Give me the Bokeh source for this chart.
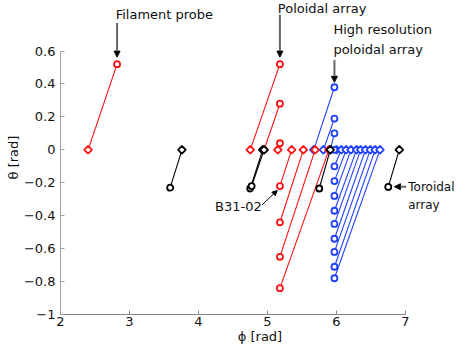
import numpy as np
from bokeh.plotting import figure
from bokeh.models import Range1d, FixedTicker, Label, Arrow, NormalHead
from bokeh.embed import file_html
from bokeh.resources import INLINE

# ---------------- data ----------------
# Filament probe (red): diamond at (phi0, theta0) -> circle at (phi1, theta)
fil_phi0 = [2.40]
fil_phi1 = [2.82]
fil_theta0 = [0.0]
fil_theta = [0.52]

# Poloidal array (red)
pol_phi0 = [4.75, 4.95, 5.15, 5.35, 5.52, 5.69, 5.89]
pol_phi1 = [5.18, 5.18, 5.18, 5.18, 5.18, 5.18, 5.18]
pol_theta0 = [0.0, 0.0, 0.0, 0.0, 0.0, 0.0, 0.0]
pol_theta = [0.52, 0.28, 0.04, -0.22, -0.44, -0.65, -0.84]

# High resolution poloidal array (blue)
hr_phi0 = [5.67, 5.81, 5.91, 6.00, 6.07, 6.14, 6.21, 6.29, 6.35, 6.42, 6.49, 6.56, 6.63]
hr_phi1 = [5.97, 5.97, 5.97, 5.97, 5.97, 5.97, 5.97, 5.97, 5.97, 5.97, 5.97, 5.97, 5.97]
hr_theta0 = [0.0, 0.0, 0.0, 0.0, 0.0, 0.0, 0.0, 0.0, 0.0, 0.0, 0.0, 0.0, 0.0]
hr_theta = [0.38, 0.19, 0.10, 0.00, -0.10, -0.19, -0.28, -0.37, -0.45, -0.54, -0.62, -0.71, -0.78]

# Toroidal array + B31-02 (black)
tor_phi0 = [3.76, 4.93, 4.95, 5.91, 6.91]
tor_phi1 = [3.59, 4.75, 4.77, 5.75, 6.75]
tor_theta0 = [0.0, 0.0, 0.0, 0.0, 0.0]
tor_theta = [-0.23, -0.235, -0.22, -0.235, -0.225]

x_ticks = [2, 3, 4, 5, 6, 7]
x_tick_labels = ["2", "3", "4", "5", "6", "7"]
y_ticks = [-1, -0.8, -0.6, -0.4, -0.2, 0, 0.2, 0.4, 0.6]
y_tick_labels = ["\u22121", "\u22120.8", "\u22120.6", "\u22120.4", "\u22120.2", "0", "0.2", "0.4", "0.6"]

# ---------------- figure ----------------
FONT = "DejaVu Sans"
FS = "13px"

W, H = 459, 346
LEFT, TOP, BOTTOM = 60, 51, 29
x_min, x_max_axis = 2, 7
y_min, y_max_axis = -1, 0.6
# extend the visible frame beyond the axis so that annotations above/right are not clipped
px_per_x = 69.0
x_max_view = x_min + (W - LEFT) / px_per_x
px_per_y = (H - TOP - BOTTOM) / (y_max_axis - y_min)
y_max_view = y_max_axis + TOP / px_per_y

p = figure(width=W, height=H, output_backend="svg", toolbar_location=None,
           x_range=Range1d(x_min, x_max_view), y_range=Range1d(y_min, y_max_view),
           min_border_left=LEFT, min_border_right=0, min_border_top=0, min_border_bottom=BOTTOM)
p.background_fill_color = "white"
p.border_fill_color = "white"
p.outline_line_color = None
p.xgrid.visible = False
p.ygrid.visible = False

for ax, col, ticks, labels, bnds in ((p.xaxis[0], "#888888", x_ticks, x_tick_labels, (x_min, x_max_axis)),
                                     (p.yaxis[0], "#a0a0a0", y_ticks, y_tick_labels, (y_min, y_max_axis))):
    ax.ticker = FixedTicker(ticks=ticks)
    ax.bounds = bnds
    ax.major_label_overrides = {t: l for t, l in zip(ticks, labels)}
    ax.axis_line_color = col
    ax.major_tick_line_color = col
    ax.major_tick_in = 4
    ax.major_tick_out = 0
    ax.minor_tick_in = 0
    ax.minor_tick_out = 0
    ax.major_label_text_font = FONT
    ax.major_label_text_font_size = FS
    ax.major_label_text_color = "#111111"
    ax.axis_label_text_font = FONT
    ax.axis_label_text_font_size = FS
    ax.axis_label_text_font_style = "normal"
    ax.axis_label_text_color = "#111111"
    ax.axis_label_standoff = 0

p.xaxis[0].axis_label = "\u03d5 [rad]"
p.yaxis[0].axis_label = "\u03b8 [rad]"
p.xaxis[0].major_label_standoff = 2
p.yaxis[0].major_label_standoff = 5


def probes(phi0, th0, phi1, th1, color):
    p.segment(x0=phi0, y0=th0, x1=phi1, y1=th1, line_color=color, line_width=1.1)
    p.scatter(x=phi0, y=th0, marker="square", angle=np.pi / 4, size=5.5,
              fill_color="white", line_color=color, line_width=1.8)
    p.scatter(x=phi1, y=th1, marker="circle", size=6,
              fill_color="white", line_color=color, line_width=1.8)


BLUE = "#2040ff"
RED = "#ff1010"
BLACK = "#000000"
probes(hr_phi0, hr_theta0, hr_phi1, hr_theta, BLUE)
probes(fil_phi0, fil_theta0, fil_phi1, fil_theta, RED)
probes(pol_phi0, pol_theta0, pol_phi1, pol_theta, RED)
probes(tor_phi0, tor_theta0, tor_phi1, tor_theta, BLACK)


# ---------------- annotations ----------------
def label(x, y, text, size=FS):
    p.add_layout(Label(x=x, y=y, text=text, text_font=FONT, text_font_size=size,
                       text_color="#111111", text_align="left", text_baseline="middle"))


def arrow(x0, y0, x1, y1, color="#666666", lw=2, size=6):
    p.add_layout(Arrow(x_start=x0, y_start=y0, x_end=x1, y_end=y1,
                       line_color=color, line_width=lw,
                       end=NormalHead(size=size, fill_color="black", line_color="black", line_width=1)))


label(2.80, 0.82, "Filament probe")
arrow(2.82, 0.77, 2.82, 0.563)

label(5.15, 0.856, "Poloidal array")
arrow(5.18, 0.82, 5.18, 0.563)

label(5.955, 0.728, "High resolution")
label(5.955, 0.61, "poloidal array")
arrow(5.97, 0.545, 5.97, 0.41)

label(7.04, -0.224, "Toroidal", size="12px")
label(7.04, -0.335, "array", size="12px")
arrow(7.01, -0.224, 6.84, -0.224)

label(4.24, -0.345, "B31-02")
arrow(4.92, -0.335, 5.14, -0.247, color="#000000", lw=1, size=5)

open("out.html", "w").write(file_html(p, INLINE))
